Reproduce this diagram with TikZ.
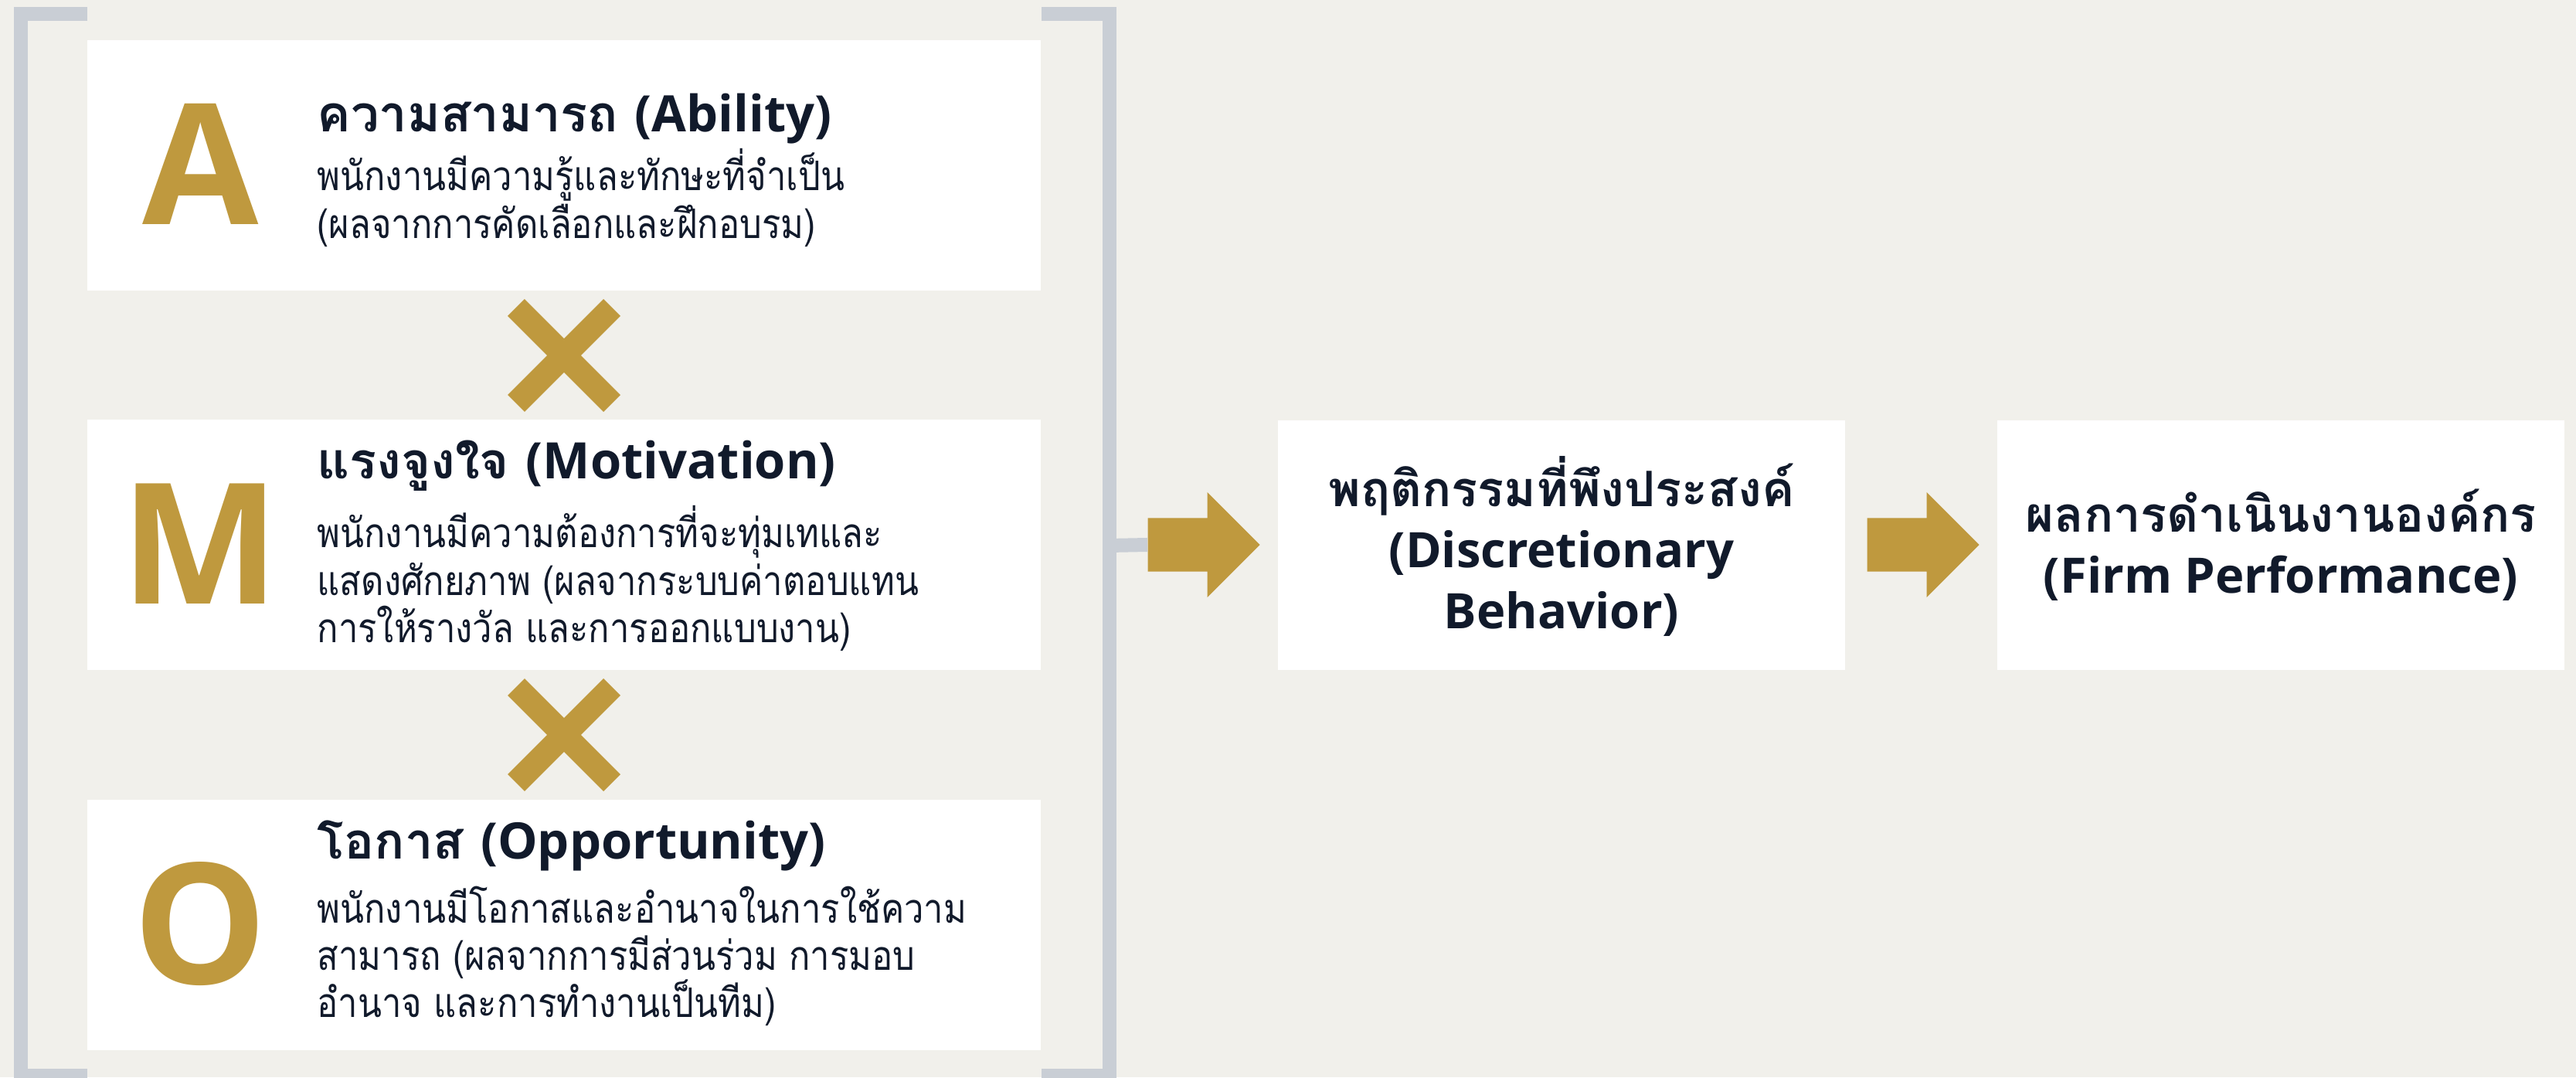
\documentclass[tikz,border=0pt]{standalone}
\usepackage{fontspec}
\setmainfont{Open Sans}
\newfontfamily\thai[Script=Thai,FakeStretch=0.86]{Loma}
\newfontfamily\thaihead[Script=Thai]{Loma}
\newcommand\cardhead{\bfseries\fontsize{18.5}{22}\selectfont}
\usetikzlibrary{shapes.arrows,shapes.misc}
\definecolor{gold}{HTML}{BF993E}
\definecolor{ink}{HTML}{111A2B}
\definecolor{paper}{HTML}{F1F0EB}
\definecolor{rule}{HTML}{C9CED5}

\begin{document}
\begin{tikzpicture}[
  card/.style={fill=white, inner sep=0pt, minimum width=12.34cm, minimum height=3.24cm},
  result/.style={fill=white, inner sep=0pt, minimum width=7.34cm, minimum height=3.23cm},
  resulttext/.style={align=center, text=ink, inner sep=0pt, font=\fontsize{18}{22.4}\selectfont\bfseries},
  letter/.style={text=gold, inner sep=0pt, font=\fontsize{62}{62}\selectfont\bfseries},
  desc/.style={anchor=west, align=left, text=ink, inner sep=0pt, font=\thai\fontsize{15}{17.4}\selectfont},
  times/.style={cross out, draw=gold, line width=0.31cm, inner sep=0pt, minimum size=0.93cm},
  flow/.style={single arrow, fill=gold, anchor=tail, inner xsep=0pt, inner ysep=0.34cm, minimum height=1.45cm,
    single arrow head extend=0.335cm, single arrow tip angle=90},
  bracketline/.style={draw=rule, line width=0.18cm}
]

\fill[paper] (0,0) rectangle (33.34,13.94);
\useasboundingbox (0,0) rectangle (33.34,13.94);

\draw[bracketline] (1.13,13.76) -- (0.27,13.76) -- (0.27,0.02) -- (1.13,0.02);
\draw[bracketline] (13.48,13.76) -- (14.355,13.76) -- (14.355,0.02) -- (13.48,0.02);

\node[card] (cardA) at (7.30,11.80) {};
\node[card] (cardM) at (7.30,6.885) {};
\node[card] (cardO) at (7.30,1.97) {};

\node[letter] (A) at (2.60,11.82) {A};
\node[letter] (M) at (2.59,6.90) {M};
\node[letter] (O) at (2.59,1.98) {O};

\node[desc] (descA) at (4.10,11.74) {{\cardhead\thaihead ความสามารถ \rmfamily(Ability)}\\[1pt]
  พนักงานมีความรู้และทักษะที่จำเป็น\\
  (ผลจากการคัดเลือกและฝึกอบรม)};
\node[desc] (descM) at (4.10,6.88) {{\cardhead\thaihead แรงจูงใจ \rmfamily(Motivation)}\\[4.5pt]
  พนักงานมีความต้องการที่จะทุ่มเทและ\\
  แสดงศักยภาพ (ผลจากระบบค่าตอบแทน\\
  การให้รางวัล และการออกแบบงาน)};
\node[desc] (descO) at (4.10,1.99) {{\cardhead\thaihead โอกาส \rmfamily(Opportunity)}\\[4.5pt]
  พนักงานมีโอกาสและอำนาจในการใช้ความ\\
  สามารถ (ผลจากการมีส่วนร่วม การมอบ\\
  อำนาจ และการทำงานเป็นทีม)};

\node[times] (x1) at (7.30,9.34) {};
\node[times] (x2) at (7.30,4.43) {};

\node[result] (beh) at (20.21,6.885) {};
\node[result] (firm) at (29.52,6.885) {};
\node[resulttext] at (20.21,6.87) {{\thaihead พฤติกรรมที่พึงประสงค์}\\(Discretionary\\Behavior)};
\node[resulttext] at (29.52,6.89) {{\thaihead ผลการดำเนินงานองค์กร}\\(Firm Performance)};

\coordinate (join) at (14.355,6.88);
\node[flow] (arr1) at (14.85,6.89) {};
\node[flow] (arr2) at (24.16,6.89) {};
\draw[bracketline] (join) -- (arr1.tail);

\end{tikzpicture}
\end{document}
